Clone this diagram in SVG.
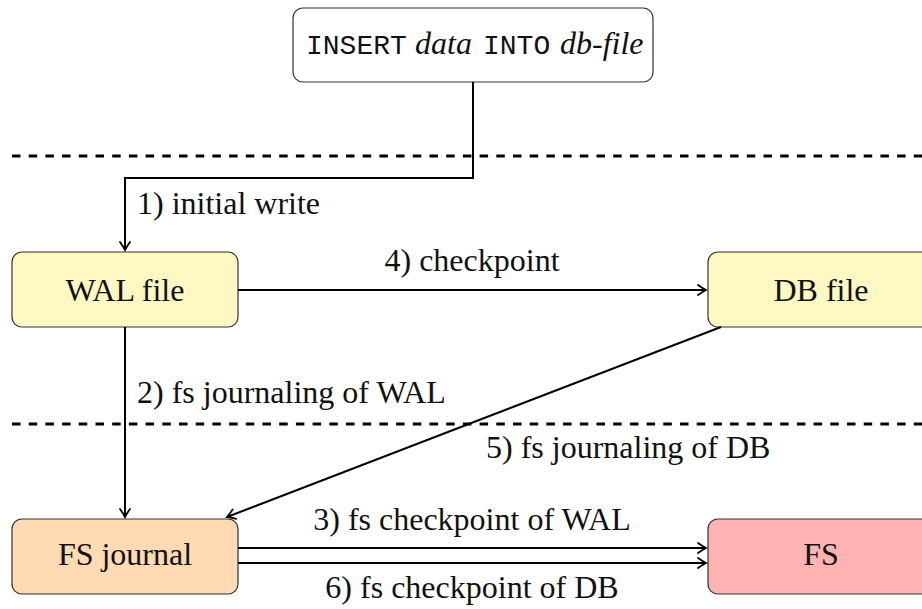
<svg xmlns="http://www.w3.org/2000/svg" width="922" height="609" viewBox="0 0 922 609">
<style>
.nodebox{stroke:#333;stroke-width:1.2}
.edge{fill:none;stroke:#000;stroke-width:2}
.sep{fill:none;stroke:#000;stroke-width:3.2;stroke-dasharray:8.5 8.2}
</style>
<defs>
<marker id="ah" viewBox="-10 -6 12 12" refX="0" refY="0" markerWidth="12" markerHeight="12" markerUnits="userSpaceOnUse" orient="auto">
<path d="M-8,-5 Q-3,-1.5 0,0 Q-3,1.5 -8,5" fill="none" stroke="#000" stroke-width="1.8" stroke-linecap="round"/>
</marker>
</defs>
<rect width="922" height="609" fill="#fff"/>
<g id="separators">
<line class="sep" x1="12" y1="156" x2="922" y2="156"/>
<line class="sep" x1="12" y1="424" x2="922" y2="424"/>
</g>
<g font-family="Liberation Serif, serif" font-size="32" fill="#111">
<g id="query">
<rect class="nodebox" x="293" y="8" width="360" height="74" rx="10" fill="#fff"/>
<text y="54"><tspan font-family="Liberation Mono, monospace" font-size="28" x="306">INSERT</tspan><tspan font-style="italic" x="415">data</tspan><tspan font-family="Liberation Mono, monospace" font-size="28" x="483">INTO</tspan><tspan font-style="italic" x="560">db-file</tspan></text>
</g>
<g id="wal">
<rect class="nodebox" x="12" y="252" width="226" height="75" rx="10" fill="#fff8c2"/>
<text x="125" y="301" text-anchor="middle">WAL file</text>
</g>
<g id="db">
<rect class="nodebox" x="708" y="252" width="226" height="75" rx="10" fill="#fff8c2"/>
<text x="821" y="301" text-anchor="middle">DB file</text>
</g>
<g id="journal">
<rect class="nodebox" x="12" y="519" width="226" height="75" rx="10" fill="#ffdab2"/>
<text x="125" y="565" text-anchor="middle">FS journal</text>
</g>
<g id="fs">
<rect class="nodebox" x="708" y="519" width="226" height="75" rx="10" fill="#ffb3b3"/>
<text x="821" y="565" text-anchor="middle">FS</text>
</g>
</g>
<g id="connectors">
<path class="edge" d="M473,82 V178 H125 V250" marker-end="url(#ah)"/>
<path class="edge" d="M238,290 H706" marker-end="url(#ah)"/>
<path class="edge" d="M125,327 V517" marker-end="url(#ah)"/>
<path class="edge" d="M721,327 L227,517" marker-end="url(#ah)"/>
<path class="edge" d="M238,548 H706" marker-end="url(#ah)"/>
<path class="edge" d="M238,563 H706" marker-end="url(#ah)"/>
</g>
<g id="labels" font-family="Liberation Serif, serif" font-size="32" fill="#111">
<text x="137" y="214">1) initial write</text>
<text x="472" y="271" text-anchor="middle">4) checkpoint</text>
<text x="137" y="403">2) fs journaling of WAL</text>
<text x="486" y="458">5) fs journaling of DB</text>
<text x="472" y="530" text-anchor="middle">3) fs checkpoint of WAL</text>
<text x="472" y="598" text-anchor="middle">6) fs checkpoint of DB</text>
</g>
</svg>
